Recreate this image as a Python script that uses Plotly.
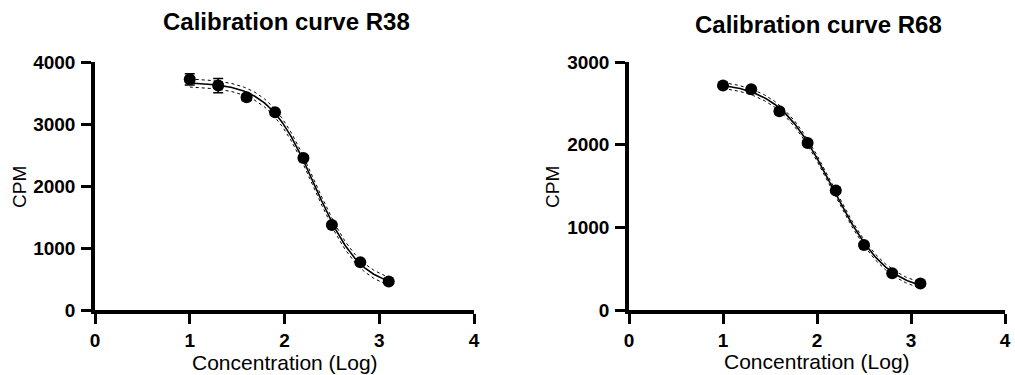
import numpy as np
import plotly.graph_objects as go

# ---- data ----
log_conc = [1.0, 1.3, 1.6, 1.9, 2.2, 2.5, 2.8, 3.1]
cpm_r38 = [3720, 3620, 3430, 3190, 2450, 1370, 770, 460]
err_r38 = [90, 115, 50, 40, 40, 40, 30, 30]
cpm_r68 = [2715, 2670, 2405, 2020, 1445, 785, 445, 320]
err_r68 = [30, 30, 30, 30, 30, 30, 25, 25]
band_r38 = 65   # half-width of the dotted confidence band (CPM)
band_r68 = 35
titles = ["Calibration curve R38", "Calibration curve R68"]
x_ticks = [0, 1, 2, 3, 4]
y_ticks_r38 = [0, 1000, 2000, 3000, 4000]
y_ticks_r68 = [0, 1000, 2000, 3000]


def fit_4pl(x, y):
    """Least-squares 4-parameter logistic fit (grid over logEC50/hill, linear in top/bottom)."""
    x = np.asarray(x, float)
    y = np.asarray(y, float)
    cs = np.linspace(1.5, 3.0, 301)
    hs = np.linspace(0.5, 3.5, 301)
    C, H = np.meshgrid(cs, hs, indexing="ij")
    F = 1.0 / (1.0 + 10 ** ((x[None, None, :] - C[..., None]) * H[..., None]))
    fm = F.mean(-1, keepdims=True)
    ym = y.mean()
    cov = ((F - fm) * (y - ym)).sum(-1)
    var = ((F - fm) ** 2).sum(-1)
    slope = cov / var
    inter = ym - slope * fm[..., 0]
    pred = inter[..., None] + slope[..., None] * F
    sse = ((pred - y) ** 2).sum(-1)
    i, j = np.unravel_index(np.argmin(sse), sse.shape)
    c, h, b, s = cs[i], hs[j], inter[i, j], slope[i, j]
    return lambda xx: b + s / (1.0 + 10 ** ((np.asarray(xx) - c) * h))


FONT = "Liberation Sans, Arial, sans-serif"
fig = go.Figure()

panels = [
    (cpm_r38, err_r38, band_r38, "x", "y"),
    (cpm_r68, err_r68, band_r68, "x2", "y2"),
]

xs = np.linspace(min(log_conc), max(log_conc), 200)
for cpm, err, band, xa, ya in panels:
    model = fit_4pl(log_conc, cpm)
    yc = model(xs)
    for off in (-band, band):
        fig.add_trace(go.Scatter(x=xs, y=yc + off, mode="lines", xaxis=xa, yaxis=ya,
                                 line=dict(color="black", width=1, dash="dot"),
                                 showlegend=False, hoverinfo="skip", cliponaxis=False))
    fig.add_trace(go.Scatter(x=xs, y=yc, mode="lines", xaxis=xa, yaxis=ya,
                             line=dict(color="black", width=1.6),
                             showlegend=False, cliponaxis=False))
    fig.add_trace(go.Scatter(x=log_conc, y=cpm, mode="markers", xaxis=xa, yaxis=ya,
                             marker=dict(color="black", size=12, symbol="circle"),
                             error_y=dict(type="data", array=err, color="black",
                                          thickness=1.5, width=5),
                             showlegend=False, cliponaxis=False))

W, H = 1015, 375


def px_x(v):
    return v / W


def px_y(v):
    return 1 - v / H


left_dom = [px_x(95), px_x(474)]
right_dom = [px_x(629), px_x(1005)]
y_dom = [px_y(310), px_y(62)]

axis_common = dict(showline=True, linecolor="black", linewidth=3.5, ticks="outside",
                   ticklen=10, tickwidth=3, tickcolor="black", showgrid=False,
                   zeroline=False, mirror=False, automargin=False,
                   tickfont=dict(family=FONT, size=19, color="black", weight="bold"))

fig.update_layout(
    width=W, height=H, margin=dict(l=0, r=0, t=0, b=0),
    plot_bgcolor="white", paper_bgcolor="white",
    xaxis=dict(domain=left_dom, range=[0, 4], tickvals=x_ticks, anchor="y", **axis_common),
    yaxis=dict(domain=y_dom, range=[0, 4000], tickvals=y_ticks_r38, anchor="x",
               ticklabelstandoff=2, **axis_common),
    xaxis2=dict(domain=right_dom, range=[0, 4], tickvals=x_ticks, anchor="y2", **axis_common),
    yaxis2=dict(domain=y_dom, range=[0, 3000], tickvals=y_ticks_r68, anchor="x2",
                ticklabelstandoff=2, **axis_common),
)

annots = [
    dict(text=titles[0], x=286, y=22, font=dict(size=24, weight="bold")),
    dict(text=titles[1], x=818, y=24, font=dict(size=24, weight="bold")),
    dict(text="CPM", x=20, y=187, textangle=-90, font=dict(size=19)),
    dict(text="CPM", x=553, y=187, textangle=-90, font=dict(size=19)),
    dict(text="Concentration (Log)", x=285, y=362, font=dict(size=21)),
    dict(text="Concentration (Log)", x=817, y=361, font=dict(size=21)),
]
for a in annots:
    f = dict(family=FONT, color="black")
    f.update(a.pop("font"))
    fig.add_annotation(xref="paper", yref="paper", x=px_x(a.pop("x")), y=px_y(a.pop("y")),
                       xanchor="center", yanchor="middle", showarrow=False, font=f, **a)

# remove the default 8px body margin so the figure fills the window exactly
fig.write_html("out.html", config={"displayModeBar": False},
               post_script="document.body.style.margin='0';document.body.style.overflow='hidden';")
